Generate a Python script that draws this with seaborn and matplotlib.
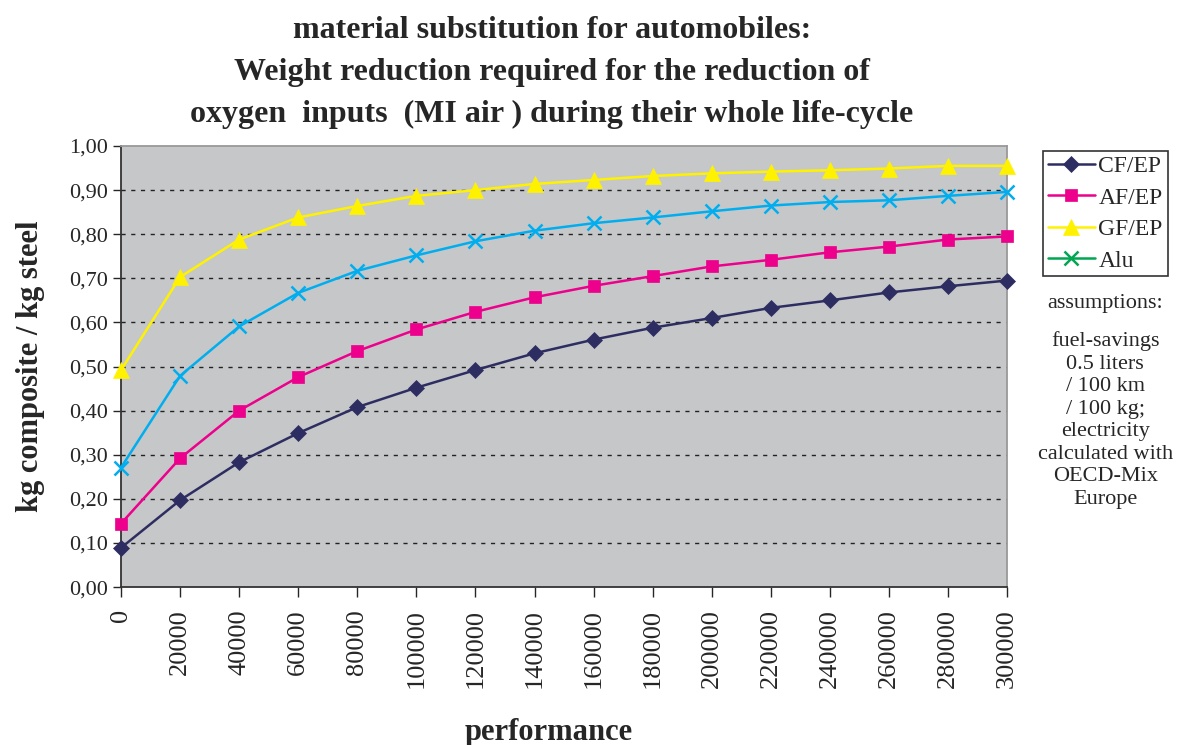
import numpy as np
import pandas as pd
import seaborn as sns
import matplotlib.pyplot as plt
from matplotlib.lines import Line2D
from matplotlib.ticker import FuncFormatter

# performance values (x axis)
performance = [0, 20000, 40000, 60000, 80000, 100000, 120000, 140000,
               160000, 180000, 200000, 220000, 240000, 260000, 280000, 300000]

# kg composite / kg steel
cf_ep = [0.089, 0.197, 0.283, 0.349, 0.408, 0.452, 0.492, 0.530,
         0.561, 0.588, 0.610, 0.633, 0.650, 0.668, 0.682, 0.695]
af_ep = [0.144, 0.292, 0.400, 0.476, 0.535, 0.584, 0.624, 0.657,
         0.683, 0.705, 0.727, 0.742, 0.759, 0.772, 0.788, 0.795]
gf_ep = [0.492, 0.703, 0.788, 0.838, 0.864, 0.887, 0.900, 0.914,
         0.923, 0.932, 0.938, 0.942, 0.945, 0.949, 0.955, 0.955]
alu = [0.271, 0.479, 0.591, 0.667, 0.717, 0.752, 0.784, 0.808,
       0.825, 0.838, 0.852, 0.865, 0.873, 0.877, 0.887, 0.896]

series_names = ["CF/EP", "AF/EP", "GF/EP", "Alu"]
line_colors = ["#2E2D62", "#EC008C", "#FFF200", "#00AEEF"]
legend_colors = ["#2E2D62", "#EC008C", "#FFF200", "#00A651"]  # legend shows Alu in green
markers = ["D", "s", "^", "x"]
msizes = {"D": 8, "s": 9, "^": 11, "x": 10}

df = pd.DataFrame({"performance": performance, "CF/EP": cf_ep,
                   "AF/EP": af_ep, "GF/EP": gf_ep, "Alu": alu})

sns.set_style("white")
plt.rcParams['font.family'] = ['Liberation Serif', 'DejaVu Serif']

fig = plt.figure(figsize=(11.82, 7.45), dpi=100)
ax = fig.add_axes([0.1024, 0.212, 0.7496, 0.592])
ax.set_facecolor("#C6C7C9")

for name, col, mk in zip(series_names, line_colors, markers):
    sns.lineplot(data=df, x="performance", y=name, ax=ax, color=col,
                 marker=mk, markersize=msizes[mk], linewidth=1.8,
                 markeredgecolor=col, markeredgewidth=1.8 if mk == "x" else 0.5,
                 clip_on=False, zorder=3)

ax.set_xlim(0, 300000)
ax.set_ylim(0, 1.0)
ax.set_xticks(performance)
ax.set_xticklabels([str(p) for p in performance], rotation=90, fontsize=19)
ax.set_yticks(np.arange(0, 1.01, 0.1))
ax.yaxis.set_major_formatter(FuncFormatter(lambda v, p: f"{v:.2f}".replace(".", ",")))
ax.tick_params(axis="y", labelsize=16, length=6, width=1, direction="out", left=True)
ax.tick_params(axis="x", length=7, width=1, direction="out", bottom=True, pad=9)

for yv in np.arange(0.1, 0.95, 0.1):
    ax.axhline(yv, color="#222222", linestyle=(0, (3, 4)), linewidth=1, zorder=1)

for side in ["left", "bottom"]:
    ax.spines[side].set_color("#333333")
    ax.spines[side].set_linewidth(1.3)
for side in ["top", "right"]:
    ax.spines[side].set_color("#999999")
    ax.spines[side].set_linewidth(1.3)

ax.set_xlabel("performance", fontsize=22, fontweight="bold")
ax.xaxis.set_label_coords(0.483, -0.297)
ax.set_ylabel("kg composite / kg steel", fontsize=22, fontweight="bold", labelpad=17)

fig.text(0.467, 0.978,
         "material substitution for automobiles:\n"
         "Weight reduction required for the reduction of\n"
         "oxygen  inputs  (MI air ) during their whole life-cycle",
         ha="center", va="top", fontsize=23, fontweight="bold", linespacing=1.58)

handles = [Line2D([0], [0], color=c, marker=m, linewidth=1.8,
                  markersize=msizes[m], markeredgecolor=c,
                  markeredgewidth=1.8 if m == "x" else 0.5)
           for c, m in zip(legend_colors, markers)]
leg = fig.legend(handles, series_names, loc="upper left",
                 bbox_to_anchor=(0.8824, 0.7973), borderaxespad=0,
                 fontsize=17, frameon=True, fancybox=False, edgecolor="black",
                 handlelength=2.0, handletextpad=0.15, borderpad=0.2,
                 labelspacing=0.42)
leg.get_frame().set_linewidth(1.2)

fig.text(0.935, 0.605, "assumptions:", ha="center", va="top", fontsize=16)
fig.text(0.935, 0.555, "fuel-savings\n0.5 liters\n/ 100 km\n/ 100 kg;\nelectricity\n"
         "calculated with\nOECD-Mix\nEurope", ha="center", va="top",
         fontsize=16, linespacing=1.25)

fig.savefig("out.png", dpi=100)
